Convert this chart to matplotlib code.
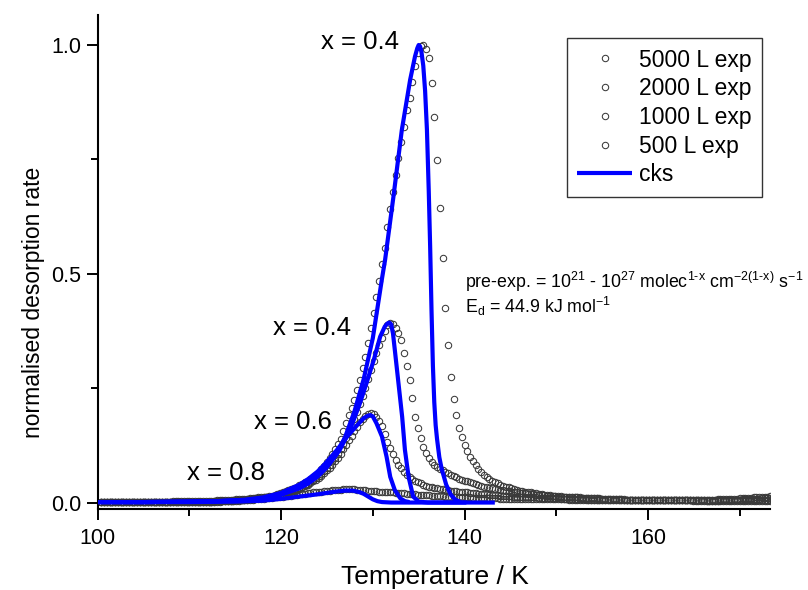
import numpy as np
import matplotlib
matplotlib.use("Agg")
import matplotlib.pyplot as plt

plt.rcParams["font.family"] = ["Liberation Sans", "DejaVu Sans"]
plt.rcParams["mathtext.fontset"] = "custom"
plt.rcParams["mathtext.rm"] = "Liberation Sans"
plt.rcParams["mathtext.it"] = "Liberation Sans:italic"
plt.rcParams["mathtext.bf"] = "Liberation Sans:bold"

# ---- experimental TPD traces (linear ramp, one reading every 0.3 K) ----
T_START = 100.4
T_STEP = 0.3
N_POINTS = 244

exp_5000 = [
    0.003, 0.003, 0.003, 0.003, 0.003, 0.003, 0.003, 0.003, 0.003, 0.003,
    0.003, 0.003, 0.003, 0.003, 0.003, 0.003, 0.003, 0.003, 0.003, 0.003,
    0.003, 0.003, 0.003, 0.003, 0.003, 0.003, 0.004, 0.004, 0.004, 0.004,
    0.004, 0.004, 0.004, 0.004, 0.004, 0.004, 0.005, 0.005, 0.005, 0.005,
    0.005, 0.005, 0.006, 0.006, 0.006, 0.006, 0.007, 0.007, 0.007, 0.008,
    0.008, 0.008, 0.009, 0.009, 0.010, 0.010, 0.011, 0.012, 0.012, 0.013,
    0.014, 0.015, 0.016, 0.018, 0.020, 0.022, 0.024, 0.026, 0.028, 0.031,
    0.033, 0.036, 0.039, 0.042, 0.045, 0.049, 0.053, 0.057, 0.062, 0.068,
    0.074, 0.081, 0.089, 0.098, 0.107, 0.117, 0.128, 0.140, 0.157, 0.175,
    0.192, 0.208, 0.225, 0.247, 0.269, 0.294, 0.319, 0.350, 0.383, 0.414,
    0.450, 0.485, 0.521, 0.556, 0.603, 0.641, 0.678, 0.716, 0.754, 0.788,
    0.820, 0.857, 0.885, 0.920, 0.955, 0.983, 0.998, 1.000, 0.992, 0.972,
    0.916, 0.842, 0.749, 0.643, 0.536, 0.425, 0.345, 0.275, 0.228, 0.192,
    0.164, 0.144, 0.127, 0.113, 0.101, 0.091, 0.082, 0.075, 0.068, 0.062,
    0.057, 0.053, 0.049, 0.046, 0.043, 0.040, 0.038, 0.036, 0.034, 0.032,
    0.030, 0.029, 0.027, 0.026, 0.025, 0.024, 0.023, 0.022, 0.021, 0.020,
    0.019, 0.018, 0.018, 0.017, 0.016, 0.016, 0.015, 0.015, 0.014, 0.014,
    0.013, 0.013, 0.012, 0.012, 0.012, 0.011, 0.011, 0.011, 0.010, 0.010,
    0.010, 0.010, 0.009, 0.009, 0.009, 0.009, 0.008, 0.008, 0.008, 0.008,
    0.008, 0.007, 0.007, 0.007, 0.007, 0.007, 0.007, 0.007, 0.006, 0.006,
    0.006, 0.006, 0.006, 0.006, 0.006, 0.006, 0.006, 0.006, 0.006, 0.006,
    0.006, 0.006, 0.006, 0.006, 0.006, 0.006, 0.006, 0.007, 0.007, 0.007,
    0.007, 0.007, 0.007, 0.007, 0.008, 0.008, 0.008, 0.008, 0.009, 0.009,
    0.009, 0.009, 0.010, 0.010, 0.010, 0.011, 0.011, 0.012, 0.012, 0.013,
    0.013, 0.014, 0.014, 0.015,
]

exp_2000 = [
    0.002, 0.002, 0.002, 0.002, 0.002, 0.002, 0.002, 0.002, 0.002, 0.002,
    0.002, 0.002, 0.002, 0.002, 0.002, 0.002, 0.002, 0.002, 0.002, 0.002,
    0.002, 0.002, 0.002, 0.002, 0.003, 0.003, 0.003, 0.003, 0.003, 0.003,
    0.003, 0.003, 0.003, 0.003, 0.003, 0.003, 0.003, 0.003, 0.003, 0.003,
    0.003, 0.004, 0.004, 0.004, 0.004, 0.005, 0.005, 0.005, 0.006, 0.006,
    0.006, 0.007, 0.007, 0.008, 0.008, 0.009, 0.010, 0.010, 0.011, 0.012,
    0.012, 0.013, 0.014, 0.016, 0.017, 0.018, 0.020, 0.022, 0.024, 0.026,
    0.028, 0.030, 0.033, 0.036, 0.039, 0.042, 0.046, 0.050, 0.054, 0.059,
    0.064, 0.070, 0.076, 0.083, 0.091, 0.099, 0.108, 0.118, 0.129, 0.141,
    0.154, 0.168, 0.183, 0.199, 0.216, 0.234, 0.252, 0.271, 0.290, 0.309,
    0.327, 0.344, 0.360, 0.375, 0.388, 0.394, 0.391, 0.382, 0.372, 0.356,
    0.327, 0.300, 0.268, 0.230, 0.188, 0.163, 0.141, 0.123, 0.110, 0.098,
    0.090, 0.084, 0.079, 0.075, 0.071, 0.068, 0.065, 0.062, 0.059, 0.056,
    0.053, 0.051, 0.049, 0.047, 0.045, 0.043, 0.041, 0.039, 0.038, 0.036,
    0.035, 0.033, 0.032, 0.031, 0.030, 0.029, 0.028, 0.027, 0.026, 0.025,
    0.024, 0.023, 0.022, 0.022, 0.021, 0.020, 0.020, 0.019, 0.018, 0.018,
    0.017, 0.017, 0.016, 0.016, 0.015, 0.015, 0.014, 0.014, 0.013, 0.013,
    0.013, 0.012, 0.012, 0.012, 0.011, 0.011, 0.011, 0.010, 0.010, 0.010,
    0.010, 0.009, 0.009, 0.009, 0.009, 0.008, 0.008, 0.008, 0.008, 0.008,
    0.007, 0.007, 0.007, 0.007, 0.007, 0.007, 0.007, 0.007, 0.007, 0.007,
    0.007, 0.007, 0.007, 0.006, 0.006, 0.006, 0.006, 0.006, 0.006, 0.006,
    0.006, 0.006, 0.006, 0.006, 0.006, 0.006, 0.006, 0.006, 0.006, 0.006,
    0.006, 0.006, 0.006, 0.006, 0.006, 0.006, 0.007, 0.007, 0.007, 0.007,
    0.007, 0.007, 0.007, 0.008, 0.008, 0.008, 0.008, 0.009, 0.009, 0.009,
    0.010, 0.010, 0.010, 0.011,
]

exp_1000 = [
    0.002, 0.002, 0.002, 0.002, 0.002, 0.002, 0.002, 0.002, 0.002, 0.002,
    0.002, 0.002, 0.002, 0.002, 0.002, 0.002, 0.002, 0.002, 0.002, 0.002,
    0.002, 0.002, 0.002, 0.002, 0.002, 0.002, 0.002, 0.003, 0.003, 0.003,
    0.003, 0.003, 0.003, 0.003, 0.003, 0.003, 0.003, 0.003, 0.003, 0.003,
    0.003, 0.003, 0.004, 0.004, 0.004, 0.004, 0.005, 0.005, 0.005, 0.006,
    0.006, 0.006, 0.007, 0.007, 0.008, 0.008, 0.009, 0.010, 0.010, 0.011,
    0.012, 0.013, 0.014, 0.015, 0.016, 0.018, 0.019, 0.021, 0.023, 0.025,
    0.027, 0.029, 0.031, 0.034, 0.037, 0.040, 0.043, 0.047, 0.051, 0.055,
    0.060, 0.065, 0.071, 0.077, 0.084, 0.091, 0.099, 0.108, 0.117, 0.127,
    0.137, 0.147, 0.157, 0.167, 0.176, 0.184, 0.190, 0.194, 0.196, 0.194,
    0.188, 0.180, 0.168, 0.150, 0.134, 0.121, 0.106, 0.093, 0.083, 0.076,
    0.068, 0.062, 0.057, 0.053, 0.049, 0.046, 0.043, 0.040, 0.038, 0.036,
    0.034, 0.033, 0.032, 0.031, 0.030, 0.029, 0.028, 0.027, 0.026, 0.026,
    0.025, 0.024, 0.024, 0.023, 0.022, 0.022, 0.021, 0.020, 0.020, 0.019,
    0.019, 0.018, 0.018, 0.017, 0.017, 0.016, 0.016, 0.015, 0.015, 0.015,
    0.014, 0.014, 0.014, 0.013, 0.013, 0.013, 0.012, 0.012, 0.012, 0.011,
    0.011, 0.011, 0.011, 0.010, 0.010, 0.010, 0.010, 0.009, 0.009, 0.009,
    0.009, 0.009, 0.008, 0.008, 0.008, 0.008, 0.008, 0.007, 0.007, 0.007,
    0.007, 0.007, 0.007, 0.007, 0.007, 0.007, 0.007, 0.007, 0.007, 0.007,
    0.007, 0.006, 0.006, 0.006, 0.006, 0.006, 0.006, 0.006, 0.006, 0.006,
    0.006, 0.006, 0.006, 0.006, 0.006, 0.006, 0.006, 0.006, 0.006, 0.006,
    0.006, 0.006, 0.006, 0.006, 0.006, 0.005, 0.005, 0.005, 0.005, 0.005,
    0.005, 0.005, 0.005, 0.005, 0.005, 0.006, 0.006, 0.006, 0.006, 0.006,
    0.006, 0.006, 0.006, 0.006, 0.006, 0.006, 0.006, 0.006, 0.006, 0.006,
    0.006, 0.006, 0.007, 0.007,
]

exp_500 = [
    0.002, 0.002, 0.002, 0.002, 0.002, 0.002, 0.002, 0.002, 0.002, 0.002,
    0.002, 0.002, 0.002, 0.002, 0.002, 0.002, 0.002, 0.002, 0.002, 0.002,
    0.002, 0.002, 0.002, 0.002, 0.002, 0.002, 0.002, 0.002, 0.002, 0.002,
    0.002, 0.002, 0.002, 0.002, 0.002, 0.003, 0.003, 0.003, 0.003, 0.003,
    0.003, 0.003, 0.003, 0.003, 0.004, 0.004, 0.004, 0.004, 0.005, 0.005,
    0.005, 0.006, 0.006, 0.006, 0.007, 0.007, 0.008, 0.008, 0.009, 0.009,
    0.010, 0.010, 0.011, 0.012, 0.012, 0.013, 0.014, 0.015, 0.015, 0.016,
    0.017, 0.018, 0.019, 0.019, 0.020, 0.021, 0.022, 0.023, 0.024, 0.025,
    0.025, 0.026, 0.027, 0.027, 0.028, 0.028, 0.029, 0.029, 0.030, 0.030,
    0.030, 0.030, 0.030, 0.029, 0.029, 0.028, 0.028, 0.027, 0.027, 0.026,
    0.026, 0.025, 0.025, 0.024, 0.024, 0.023, 0.023, 0.022, 0.022, 0.021,
    0.021, 0.020, 0.020, 0.019, 0.019, 0.018, 0.018, 0.017, 0.017, 0.017,
    0.016, 0.016, 0.015, 0.015, 0.015, 0.014, 0.014, 0.014, 0.013, 0.013,
    0.013, 0.012, 0.012, 0.012, 0.012, 0.011, 0.011, 0.011, 0.011, 0.010,
    0.010, 0.010, 0.010, 0.010, 0.010, 0.009, 0.009, 0.009, 0.009, 0.009,
    0.009, 0.009, 0.009, 0.009, 0.009, 0.008, 0.008, 0.008, 0.008, 0.008,
    0.008, 0.008, 0.008, 0.008, 0.008, 0.008, 0.008, 0.008, 0.008, 0.008,
    0.007, 0.007, 0.007, 0.007, 0.007, 0.007, 0.007, 0.007, 0.007, 0.007,
    0.007, 0.007, 0.007, 0.007, 0.007, 0.006, 0.006, 0.006, 0.006, 0.006,
    0.006, 0.006, 0.006, 0.006, 0.006, 0.006, 0.006, 0.006, 0.006, 0.006,
    0.006, 0.006, 0.006, 0.006, 0.006, 0.006, 0.006, 0.006, 0.006, 0.006,
    0.006, 0.006, 0.006, 0.006, 0.006, 0.006, 0.006, 0.006, 0.006, 0.006,
    0.005, 0.005, 0.005, 0.005, 0.005, 0.005, 0.005, 0.005, 0.005, 0.005,
    0.005, 0.005, 0.005, 0.005, 0.005, 0.005, 0.005, 0.005, 0.005, 0.005,
    0.005, 0.005, 0.005, 0.005,
]

# ---- kinetic model (cks) curves ----
cks_5000_T = [100, 105, 110, 113, 116, 118, 120, 122, 123, 124, 125, 126, 127,
              128, 129, 130, 131, 131.34, 132.25, 133.16, 134.07, 134.6,
              134.85, 135.0, 135.15, 135.3, 135.5, 135.7, 135.9, 136.1,
              136.25, 136.4, 136.55, 136.7, 136.85, 137.0, 137.25, 137.5,
              138.0, 138.5, 139.0, 139.5]
cks_5000_y = [0.002, 0.002, 0.003, 0.004, 0.006, 0.010, 0.018, 0.032, 0.043,
              0.058, 0.078, 0.105, 0.145, 0.200, 0.270, 0.360, 0.490, 0.531,
              0.669, 0.814, 0.924, 0.975, 0.993, 1.000, 0.997, 0.985, 0.955,
              0.900, 0.815, 0.680, 0.560, 0.420, 0.300, 0.220, 0.170, 0.140,
              0.100, 0.075, 0.040, 0.018, 0.007, 0.003]

cks_2000_T = [100, 105, 110, 113, 116, 118, 120, 122, 123, 124, 125.3, 126.4,
              127.5, 128.6, 129.3, 130.1, 130.8, 131.3, 131.6, 131.8, 132.0,
              132.2, 132.4, 132.8, 133.2, 133.5, 133.9, 134.4, 135.0, 136.0,
              138.0, 140.2]
cks_2000_y = [0.002, 0.002, 0.003, 0.004, 0.006, 0.010, 0.019, 0.035, 0.047,
              0.062, 0.087, 0.116, 0.159, 0.218, 0.261, 0.312, 0.363, 0.385,
              0.392, 0.394, 0.390, 0.370, 0.334, 0.261, 0.188, 0.116, 0.057,
              0.014, 0.003, 0.001, 0.001, 0.001]

cks_1000_T = [100, 105, 110, 113, 116, 118, 120, 122, 123, 124, 125.0, 126.1,
              127.2, 128.3, 129.0, 129.4, 129.7, 130.0, 130.4, 131.0, 131.5,
              131.9, 132.4, 133.0, 133.5, 134.0]
cks_1000_y = [0.002, 0.002, 0.003, 0.004, 0.007, 0.012, 0.022, 0.040, 0.053,
              0.069, 0.090, 0.116, 0.145, 0.170, 0.185, 0.190, 0.192, 0.189,
              0.174, 0.145, 0.101, 0.057, 0.028, 0.010, 0.004, 0.002]

cks_500_T = [100, 105, 110, 115, 118, 120, 122, 124, 126, 127.0, 127.8,
             128.5, 129.0, 129.5, 130.0, 130.5, 131.0, 132.0, 136.0, 140.0,
             143.3]
cks_500_y = [0.002, 0.002, 0.002, 0.003, 0.005, 0.009, 0.014, 0.019, 0.025,
             0.027, 0.027, 0.024, 0.020, 0.014, 0.008, 0.004, 0.002, 0.001,
             0.001, 0.001, 0.001]

series_labels = ["5000 L exp", "2000 L exp", "1000 L exp", "500 L exp"]
model_label = "cks"
curve_tags = ["x = 0.4", "x = 0.4", "x = 0.6", "x = 0.8"]
tag_pos = [(128.6, 1.007), (123.4, 0.382), (121.3, 0.177), (114.0, 0.066)]

T_exp = np.round(T_START + T_STEP * np.arange(N_POINTS), 2)

fig = plt.figure(figsize=(8.08, 5.90), dpi=100)
ax = fig.add_axes([0.1208, 0.1373, 0.8322, 0.8373])

marker_style = dict(linestyle="none", marker="o", markersize=4.6,
                    markerfacecolor="none", markeredgecolor="#3a3a3a",
                    markeredgewidth=0.75, zorder=2)
handles = []
for data, lab in zip([exp_5000, exp_2000, exp_1000, exp_500], series_labels):
    h, = ax.plot(T_exp, data, label=lab, **marker_style)
    handles.append(h)

blue = "#0000ff"
line_style = dict(color=blue, linewidth=3.0, solid_capstyle="butt", zorder=3)
hm, = ax.plot(cks_5000_T, cks_5000_y, label=model_label, **line_style)
ax.plot(cks_2000_T, cks_2000_y, **line_style)
ax.plot(cks_1000_T, cks_1000_y, **line_style)
ax.plot(cks_500_T, cks_500_y, **line_style)
handles.append(hm)

for tag, (tx, ty) in zip(curve_tags, tag_pos):
    ax.text(tx, ty, tag, fontsize=18.5, ha="center", va="center",
            color="black")

ax.text(140.07, 0.470,
        r"pre-exp. = 10$^{21}$ - 10$^{27}$ molec$^{\mathrm{1\text{-}x}}$ "
        r"cm$^{\mathrm{-2(1\text{-}x)}}$ s$^{\mathrm{-1}}$",
        fontsize=12.8, ha="left", va="baseline")
ax.text(140.07, 0.414, r"E$_{\mathrm{d}}$ = 44.9 kJ mol$^{\mathrm{-1}}$",
        fontsize=12.8, ha="left", va="baseline")

ax.set_xlim(100, 173.3)
ax.set_ylim(-0.0131, 1.0655)
ax.set_xticks([100, 120, 140, 160])
ax.set_xticks([110, 130, 150, 170], minor=True)
ax.set_yticks([0.0, 0.5, 1.0])
ax.set_yticklabels(["0.0", "0.5", "1.0"])
ax.set_yticks([0.25, 0.75], minor=True)

for s in ["top", "right"]:
    ax.spines[s].set_visible(False)
for s in ["left", "bottom"]:
    ax.spines[s].set_linewidth(1.5)

ax.tick_params(axis="both", which="major", direction="out", length=8,
               width=1.4, labelsize=15.5, pad=4)
ax.tick_params(axis="x", which="major", pad=6)
ax.tick_params(axis="both", which="minor", direction="out", length=5,
               width=1.4)

ax.set_xlabel("Temperature / K", fontsize=19)
ax.set_ylabel("normalised desorption rate", fontsize=16.5)
ax.xaxis.set_label_coords(0.502, -0.138)
ax.yaxis.set_label_coords(-0.096, 0.419)
ax.xaxis.label.set_verticalalignment("center")
ax.yaxis.label.set_verticalalignment("center")

leg = ax.legend(handles=handles, loc="upper right",
                bbox_to_anchor=(0.988, 0.953), fontsize=16.5, numpoints=1,
                handlelength=2.4, handletextpad=0.3, labelspacing=0.25,
                borderpad=0.45, borderaxespad=0.0, fancybox=False,
                frameon=True)
leg.get_frame().set_edgecolor("black")
leg.get_frame().set_linewidth(1.0)

fig.savefig("out.png", dpi=100)
